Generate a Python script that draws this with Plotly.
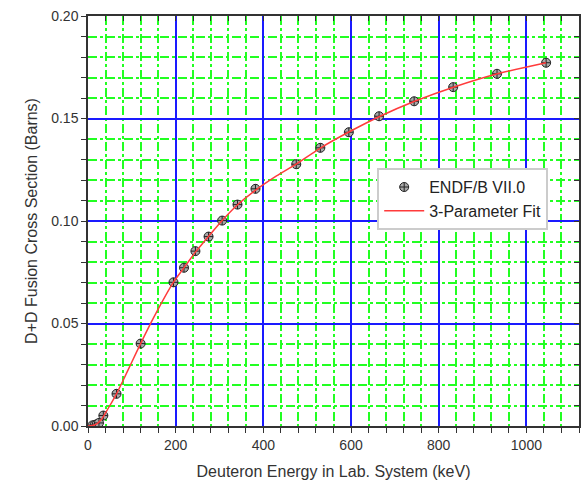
import plotly.graph_objects as go

# ENDF/B VII.0 evaluated D+D cross section points (keV, barns)
endf_energy = [10, 15, 20, 25, 35, 65, 120, 195, 219, 245, 275, 306, 341, 382,
               475, 530, 595, 664, 744, 833, 933, 1045]
endf_sigma = [0.0003, 0.0005, 0.0009, 0.0015, 0.0051, 0.0157, 0.0402, 0.0701,
              0.0772, 0.0853, 0.0924, 0.1002, 0.1080, 0.1157, 0.1277, 0.1357,
              0.1433, 0.1511, 0.1584, 0.1653, 0.1718, 0.1772]

# 3-parameter fit curve (keV, barns)
fit_energy = [0, 10, 20, 30, 35, 40, 50, 65, 80, 100, 120, 150, 195, 220, 245,
              275, 305, 340, 380, 430, 475, 530, 595, 665, 745, 835, 930, 1045]
fit_sigma = [0.0, 0.0002, 0.0010, 0.0030, 0.0046, 0.0064, 0.0100, 0.0157,
             0.0222, 0.0312, 0.0402, 0.0530, 0.0702, 0.0775, 0.0848, 0.0925,
             0.1000, 0.1077, 0.1147, 0.1220, 0.1278, 0.1356, 0.1434, 0.1510,
             0.1584, 0.1654, 0.1716, 0.1772]

x_range = [0, 1120]
y_range = [0, 0.20]

FONT = "Liberation Sans, Arial, sans-serif"
AXIS_COLOR = "#333333"
MAJOR_GRID = "#1a1aff"
MINOR_GRID = "#22ff22"

fig = go.Figure()

fig.add_trace(go.Scatter(
    x=endf_energy, y=endf_sigma, mode="markers", name="ENDF/B VII.0",
    marker=dict(symbol="circle-cross", size=9, color="#a8a8a8",
                line=dict(color="#222222", width=1)),
))
fig.add_trace(go.Scatter(
    x=fit_energy, y=fit_sigma, mode="lines", name="3-Parameter Fit",
    line=dict(color="#ff3b3b", width=1.5, shape="spline", smoothing=0.6),
))
# invisible trace that carries the mirrored top/right axes
fig.add_trace(go.Scatter(
    x=x_range, y=y_range, xaxis="x2", yaxis="y2", mode="markers",
    marker=dict(opacity=0), showlegend=False, hoverinfo="skip",
))

axis_common = dict(
    showline=True, linecolor=AXIS_COLOR, linewidth=1.5,
    zeroline=False, tickcolor=AXIS_COLOR, tickwidth=1, ticklen=5,
    tickfont=dict(family=FONT, size=14, color="#333333"),
)

fig.update_layout(
    template="simple_white",
    width=582, height=488,
    margin=dict(l=88, r=3, t=16, b=62),
    paper_bgcolor="white", plot_bgcolor="white",
    font=dict(family=FONT, color="#333333"),
    xaxis=dict(
        range=x_range, dtick=200, ticks="outside",
        showgrid=True, gridcolor=MAJOR_GRID, gridwidth=2,
        minor=dict(dtick=40, ticks="outside", ticklen=5, tickcolor=AXIS_COLOR,
                   showgrid=True, gridcolor=MINOR_GRID, griddash="dashdot",
                   gridwidth=1.5),
        title=dict(text="Deuteron Energy in Lab. System (keV)",
                   font=dict(family=FONT, size=16, color="#333333"), standoff=14),
        **axis_common,
    ),
    yaxis=dict(
        range=y_range, dtick=0.05, tickformat=".2f", ticks="outside",
        showgrid=True, gridcolor=MAJOR_GRID, gridwidth=2,
        minor=dict(dtick=0.01, ticks="outside", ticklen=5, tickcolor=AXIS_COLOR,
                   showgrid=True, gridcolor=MINOR_GRID, griddash="dashdot",
                   gridwidth=1.5),
        title=dict(text="D+D Fusion Cross Section (Barns)",
                   font=dict(family=FONT, size=16, color="#333333"), standoff=10),
        **axis_common,
    ),
    xaxis2=dict(
        range=x_range, overlaying="x", side="top", dtick=200, ticks="inside",
        showticklabels=False, showgrid=False,
        minor=dict(dtick=40, ticks="inside", ticklen=5, tickcolor=AXIS_COLOR,
                   showgrid=False),
        **axis_common,
    ),
    yaxis2=dict(
        range=y_range, overlaying="y", side="right", dtick=0.05, ticks="inside",
        showticklabels=False, showgrid=False,
        minor=dict(dtick=0.01, ticks="inside", ticklen=5, tickcolor=AXIS_COLOR,
                   showgrid=False),
        **axis_common,
    ),
    legend=dict(
        x=0.589, y=0.629, xanchor="left", yanchor="top",
        bgcolor="white", bordercolor="#cccccc", borderwidth=2,
        font=dict(family=FONT, size=16, color="#222222"),
        itemwidth=40, tracegroupgap=0,
    ),
    showlegend=True,
)

fig.write_html("out.html")
